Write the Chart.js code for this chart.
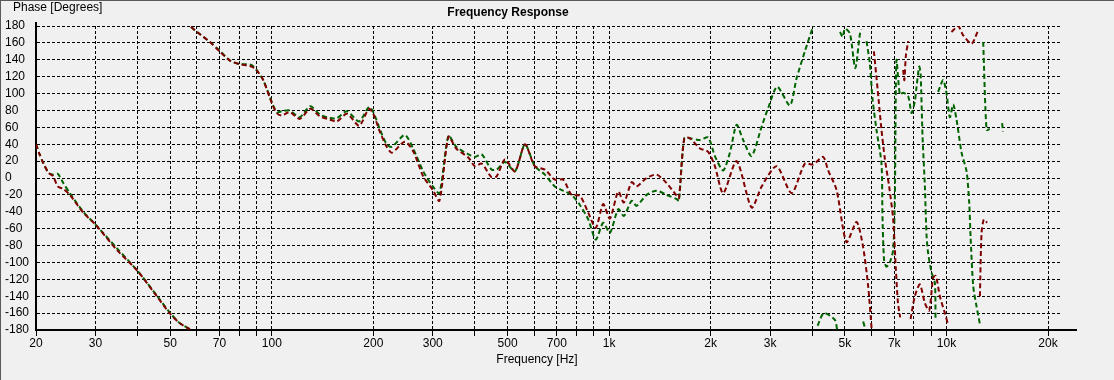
<!DOCTYPE html>
<html>
<head>
<meta charset="utf-8">
<script src="https://cdn.jsdelivr.net/npm/chart.js@4.4.0/dist/chart.umd.min.js"></script>
<style>
html, body { margin: 0; padding: 0; background: #f0f0f0; }
</style>
</head>
<body>
<canvas id="myChart" width="1114" height="380"></canvas>
<script>
/* grid lines and labels of the frequency axis */
const xGrid = [20, 30, 40, 50, 60, 70, 80, 90, 100, 200, 300, 400, 500, 600, 700, 800, 900,
	1000, 2000, 3000, 4000, 5000, 6000, 7000, 8000, 9000, 10000, 20000];
const xLabeled = [20, 30, 50, 70, 100, 200, 300, 500, 700, 1000, 2000, 3000, 5000, 7000, 10000, 20000];
const xLabelText = ['20', '30', '50', '70', '100', '200', '300', '500', '700', '1k', '2k', '3k', '5k', '7k', '10k', '20k'];

/* red trace (null = phase wrap) */
const freqRed = [20, 20.5, 21, 21.8, 22.5, 23.2, 24.1, 25.2, 27.6, 30, 34.7, 40, 45.6, 50, 53.4, 57.2, 57.4,
	57.6, 60, 65.6, 70, 75.2, 80, 87, 90, 94.3, 100, 103.4, 107, 113, 121, 130, 139, 149, 156, 167, 181.5, 194,
	200, 209, 219, 227, 248, 263, 281, 300, 314, 334, 352, 383, 400, 419, 448, 464, 491, 526, 563, 602, 645,
	690, 731, 774, 819, 867, 913, 960, 1005, 1064, 1106, 1166, 1206, 1291, 1383, 1480, 1585, 1610, 1670, 1736,
	1858, 1966, 2058, 2178, 2387, 2644, 2832, 3136, 3474, 3804, 4026, 4310, 4458, 4722, 5054, 5413, 5662, 5862,
	5998, 6040, 6093, 6250, 6417, 6570, 6761, 6950, 7078, 7180, 7290, 7360, 7440, 7500, 7580, 7700, 7760,
	7825, 8058, 8337, 8629, 8887, 9131, 9302, 9558, 9890, 10116, 10230, 10346, 10830, 11206, 11866, 12362,
	12460, 12561, 12706, 12906, 13200];
const phaseRed = [40, 28, 18, 6, 2, -10, -13, -20, -41, -55, -85, -110, -140, -161, -172, -179, null,
	179, 173, 161, 150, 139, 135, 132, 128, 116, 89, 77, 74, 78, 70, 82, 73, 69, 67, 76, 62, 82,
	76, 55, 37, 30, 43, 31, 2, -14, -27, 49, 35, 24, 14, 17, 1, 2, 22, 8, 40, 14, 10,
	-2, -2, -20, -21, -41, -59, -31, -48, -16, -29, -5, -10, 0, 4, -6, -21, -24, 47, 47,
	35, 31, 14, -18, 20, -35, -10, 14, -18, 17, 16, 25, 9, -14, -76, -52, -82, -129,
	-178, null, 150, 105, 57, 22, -10, -49, -108, -148, -165, null, 128, 116, 145, 162, null,
	-167, -140, -126, -148, -157, -118, -116, -140, -160, -174, null, 173, 180, 169, 159, 173,
	null, -140, -65, -49, -53];

/* green trace */
const freqGreen = [20, 20.5, 21, 21.8, 22.5, 23.2, 24.1, 25.2, 27.6, 30, 34.7, 40, 45.6, 50, 53.4, 57.2, 57.4,
	57.6, 60, 65.6, 70, 75.2, 80, 87, 90, 94.3, 100, 103.4, 107, 113, 121, 130, 139, 149, 156, 167, 181.5, 194,
	200, 209, 219, 227, 248, 263, 281, 300, 314, 334, 352, 383, 400, 419, 448, 464, 491, 526, 563, 602, 645,
	690, 731, 774, 819, 867, 913, 960, 1005, 1064, 1106, 1166, 1206, 1291, 1383, 1480, 1585, 1610, 1670, 1736,
	1858, 1966, 2058, 2178, 2280, 2387, 2496, 2644, 2832, 2962, 3150, 3434, 3594, 3804, 4026, 4090,
	4148, 4330, 4668, 4742, 4790, 4834, 4924, 5000, 5174, 5366, 5540, 5600, 5630, 5662, 5728, 5760,
	5794, 5925, 6035, 6202, 6417, 6460, 6531, 6640, 6792, 6949, 7030, 7078, 7112, 7274, 7440, 7697, 7880,
	8058, 8152, 8300, 8380, 8492, 8629, 8729, 8824, 9032, 9238, 9280, 9360,
	9446, 9776, 10004, 10234, 10466, 10712, 11084, 11468, 11676, 11786, 12000, 12276, 12561, 12700,
	12848, 13146, 13446, 14000, 14620, 14700];
const phaseGreen = [40, 28, 18, 6, 4, 5, -6, -18, -40, -55, -83, -110, -139, -160, -172, -179, null,
	179, 173, 161, 151, 139, 135, 134, 128, 116, 90, 78, 79, 80, 72, 85, 75, 71, 71, 79, 67, 84,
	78, 58, 40, 37, 51, 34, 8, -10, -18, 50, 37, 28, 25, 28, 10, 10, 19, 8, 40, 14, 4,
	-10, -15, -20, -32, -49, -73, -53, -65, -37, -45, -27, -33, -20, -15, -20, -25, -27, 47, 47,
	45, 48, 26, 9, 30, 63, 45, 26, 61, 83, 108, 86, 118, 150, 180, null,
	-175, -160, -168, -180, null, 173, 167, 177, 171, 130, 171, 176, null, -170, -177, null,
	162, 136, 94, 57, 17, -45, -97, -105, -100, -85, -24, 108, 140, 99, 101, 97, 77,
	91, 108, 132, 124, 49, -10, -69, -89, -112, -124, -167, null,
	102, 116, 100, 72, 87, 69, 30, 8, -29, -69, -128, -152, -173, null,
	161, 57, 58, null, 65, 55];

const toPoints = (fs, ps) => fs.map((f, i) => ({ x: f, y: ps[i] }));

const decor = {
	id: 'decor',
	beforeDraw(chart) {
		const ctx = chart.ctx;
		ctx.save();
		ctx.fillStyle = '#f0f0f0';
		ctx.fillRect(0, 0, chart.width, chart.height);
		// window frame
		ctx.fillStyle = '#5a5a5a';
		ctx.fillRect(0, 0, chart.width, 1);
		ctx.fillRect(0, 0, 1, chart.height);
		ctx.restore();
	},
	afterDraw(chart) {
		const { ctx, chartArea } = chart;
		ctx.save();
		ctx.strokeStyle = '#000';
		ctx.lineWidth = 2;
		ctx.beginPath();
		ctx.moveTo(chartArea.left, chartArea.top - 4);
		ctx.lineTo(chartArea.left, chartArea.top);
		ctx.moveTo(chartArea.right, chartArea.bottom);
		ctx.lineTo(chartArea.right + 15, chartArea.bottom);
		ctx.stroke();
		ctx.fillStyle = '#000';
		ctx.textBaseline = 'middle';
		ctx.font = '12px "Liberation Sans", Arial, sans-serif';
		ctx.textAlign = 'left';
		ctx.fillText('Phase [Degrees]', 13, 8);
		ctx.textAlign = 'center';
		ctx.fillText('Frequency [Hz]', 537, 360);
		ctx.font = 'bold 12px "Liberation Sans", Arial, sans-serif';
		ctx.fillText('Frequency Response', 508, 13);
		ctx.restore();
	}
};

const ctx = document.getElementById('myChart');
const myChart = new Chart(ctx, {
	type: 'line',
	data: {
		datasets: [{
			label: 'Red',
			data: toPoints(freqRed, phaseRed),
			borderColor: 'rgb(128, 0, 0)',
			borderWidth: 2,
			borderDash: [5, 3],
			pointRadius: 0,
			tension: 0.25,
			spanGaps: false
		}, {
			label: 'Green',
			data: toPoints(freqGreen, phaseGreen),
			borderColor: 'rgb(0, 100, 0)',
			borderWidth: 2,
			borderDash: [5, 3],
			pointRadius: 0,
			tension: 0.25,
			spanGaps: false
		}]
	},
	options: {
		responsive: false,
		animation: false,
		layout: { padding: { top: 26, left: 5, right: 52, bottom: 0 } },
		plugins: { legend: { display: false }, tooltip: { enabled: false } },
		scales: {
			x: {
				type: 'logarithmic',
				min: 20,
				max: 22000,
				afterBuildTicks: (axis) => { axis.ticks = xGrid.map(v => ({ value: v })); },
				afterFit: (axis) => { axis.height = 50; },
				ticks: {
					autoSkip: false,
					maxRotation: 0,
					padding: 0,
					color: '#000',
					font: { family: '"Liberation Sans", Arial, sans-serif', size: 12 },
					callback: (value) => {
						const i = xLabeled.indexOf(value);
						return i >= 0 ? xLabelText[i] : '';
					}
				},
				grid: { color: '#000', lineWidth: 1, tickLength: 6, tickColor: '#000' },
				border: { display: true, color: '#000', width: 2, dash: [3, 2] }
			},
			y: {
				min: -180,
				max: 180,
				afterFit: (axis) => { axis.width = 31; },
				ticks: {
					stepSize: 20,
					autoSkip: false,
					crossAlign: 'far',
					padding: 0,
					color: '#000',
					font: { family: '"Liberation Sans", Arial, sans-serif', size: 12 }
				},
				grid: { color: '#000', lineWidth: 1, drawTicks: false },
				border: { display: true, color: '#000', width: 2, dash: [3, 2] }
			}
		}
	},
	plugins: [decor]
});
</script>
</body>
</html>
